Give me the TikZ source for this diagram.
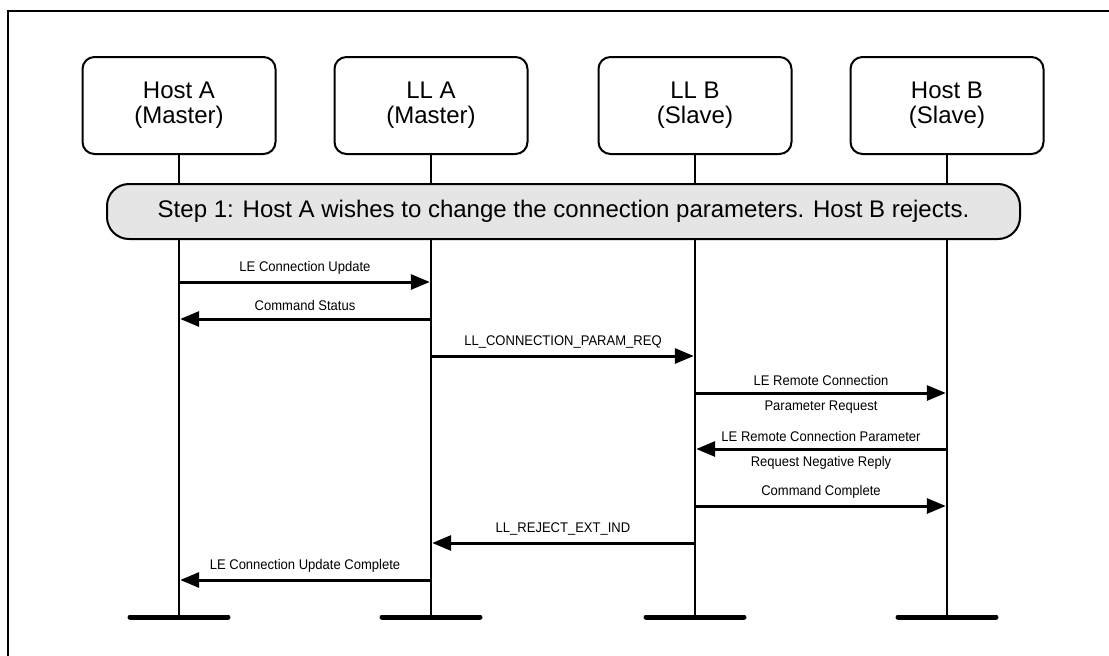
\documentclass[tikz,border=0pt]{standalone}
\usepackage{fontspec}
\setmainfont{Liberation Sans}
\newfontfamily\narrowfont[FakeStretch=0.93]{Liberation Sans}
\usetikzlibrary{arrows.meta}
\begin{document}
\begin{tikzpicture}[x=1pt,y=-1pt,
  actor/.style={draw,line width=2pt,rounded corners=12pt,minimum width=193pt,minimum height=97pt,align=center,font=\fontsize{24}{25}\selectfont,inner sep=0pt,fill=white},
  stepbox/.style={draw,line width=2pt,rounded corners=22pt,fill=black!10,minimum width=913pt,minimum height=55pt,inner sep=0pt,font=\fontsize{24}{28}\selectfont},
  life/.style={line width=2.5pt},
  endbar/.style={line width=5pt,line cap=round},
  msg/.style={line width=3pt,shorten >=1.2pt,-{Triangle[length=19pt,width=15pt]}},
  lbl/.style={font=\narrowfont\fontsize{14}{16}\selectfont,inner sep=0pt}]
\useasboundingbox (0,0) rectangle (1109,656);
\draw[line width=2pt] (8,656) -- (8,11) -- (1109,11);

\node[actor] (hA) at (179,105.5) {Host A\\(Master)};
\node[actor] (lA) at (431,105.5) {LL A\\(Master)};
\node[actor] (lB) at (695,105.5) {LL B\\(Slave)};
\node[actor] (hB) at (947,105.5) {Host B\\(Slave)};

\coordinate (eA) at (hA |- 0,617);
\coordinate (eB) at (lA |- 0,617);
\coordinate (eC) at (lB |- 0,617);
\coordinate (eD) at (hB |- 0,617);

\foreach \a/\e in {hA/eA,lA/eB,lB/eC,hB/eD}{
  \draw[life] (\a.south) -- (\e);
  \draw[endbar] ([xshift=-49pt]\e) -- ([xshift=49pt]\e);
}

\node[stepbox] (step) at (563.5,211.5) {Step 1: Host A wishes to change the connection parameters. Host B rejects.};

\coordinate (m1) at (0,282);
\coordinate (m2) at (0,319);
\coordinate (m3) at (0,356);
\coordinate (m4) at (0,393);
\coordinate (m5) at (0,449);
\coordinate (m6) at (0,506);
\coordinate (m7) at (0,543);
\coordinate (m8) at (0,580);

\draw[msg] (hA |- m1) -- (lA |- m1) node[lbl,midway,yshift=14pt] {LE Connection Update};
\draw[msg] (lA |- m2) -- (hA |- m2) node[lbl,midway,yshift=14pt] {Command Status};
\draw[msg] (lA |- m3) -- (lB |- m3) node[lbl,midway,yshift=14pt] {LL\_CONNECTION\_PARAM\_REQ};
\draw[msg] (lB |- m4) -- (hB |- m4) node[lbl,midway,yshift=13pt] {LE Remote Connection}
  node[lbl,midway,yshift=-14pt] {Parameter Request};
\draw[msg] (hB |- m5) -- (lB |- m5) node[lbl,midway,yshift=13pt] {LE Remote Connection Parameter}
  node[lbl,midway,yshift=-14pt] {Request Negative Reply};
\draw[msg] (lB |- m6) -- (hB |- m6) node[lbl,midway,yshift=14pt] {Command Complete};
\draw[msg] (lB |- m7) -- (lA |- m7) node[lbl,midway,yshift=14pt] {LL\_REJECT\_EXT\_IND};
\draw[msg] (lA |- m8) -- (hA |- m8) node[lbl,midway,yshift=14pt] {LE Connection Update Complete};
\end{tikzpicture}
\end{document}
